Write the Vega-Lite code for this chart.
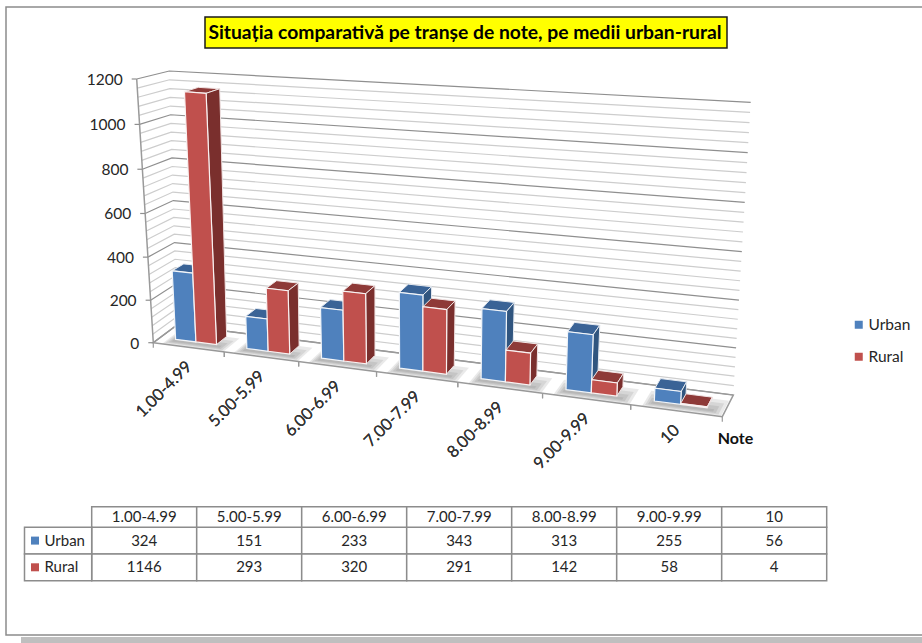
{
"$schema":"https://vega.github.io/schema/vega-lite/v6.json",
"width":925,"height":628,
"padding":{"left":6,"top":7,"right":0,"bottom":8},
"autosize":{"type":"none"},
"background":"#ffffff",
"config":{"font":"Lato","view":{"stroke":"#8c8c8c","strokeWidth":1.5,"fill":"#ffffff"}},
"datasets":{
"notes":[
{"cat":"1.00-4.99","series":"Urban","value":324},{"cat":"5.00-5.99","series":"Urban","value":151},{"cat":"6.00-6.99","series":"Urban","value":233},{"cat":"7.00-7.99","series":"Urban","value":343},{"cat":"8.00-8.99","series":"Urban","value":313},{"cat":"9.00-9.99","series":"Urban","value":255},{"cat":"10","series":"Urban","value":56},
{"cat":"1.00-4.99","series":"Rural","value":1146},{"cat":"5.00-5.99","series":"Rural","value":293},{"cat":"6.00-6.99","series":"Rural","value":320},{"cat":"7.00-7.99","series":"Rural","value":291},{"cat":"8.00-8.99","series":"Rural","value":142},{"cat":"9.00-9.99","series":"Rural","value":58},{"cat":"10","series":"Rural","value":4}],
"grid":[{"g":0},{"g":40},{"g":80},{"g":120},{"g":160},{"g":200},{"g":240},{"g":280},{"g":320},{"g":360},{"g":400},{"g":440},{"g":480},{"g":520},{"g":560},{"g":600},{"g":640},{"g":680},{"g":720},{"g":760},{"g":800},{"g":840},{"g":880},{"g":920},{"g":960},{"g":1000},{"g":1040},{"g":1080},{"g":1120},{"g":1160},{"g":1200}]
},
"layer":[
{"data":{"values":[{}]},"mark":{"type":"rect","fill":"#bfbfbf"},
 "encoding":{"x":{"datum":21,"type":"quantitative","scale":{"domain":[6,931],"nice":false,"zero":false},"axis":null},"x2":{"datum":931},
 "y":{"datum":637,"type":"quantitative","scale":{"domain":[635,7],"nice":false,"zero":false},"axis":null},"y2":{"datum":650}}},
{"data":{"name":"grid"},
 "transform":[
 {"calculate":"[0,1,2,3]","as":"c"},{"flatten":["c"]},
 {"calculate":"[0,0,1,1][datum.c]","as":"T"},
 {"calculate":"[0,1,1,0][datum.c]","as":"D"},
 {"calculate":"datum.g/1200","as":"V0"},
 {"calculate":"0.96*datum.V0+0.04*datum.V0*datum.V0","as":"V"},
 {"calculate":"(1-datum.V)*((1-datum.D)*(153.3+569*datum.T)+datum.D*(177+556.3*datum.T))+datum.V*((1-datum.D)*(136.7+601.3*datum.T)+datum.D*(169.3+581.4*datum.T))","as":"px"},
 {"calculate":"(1-datum.V)*((1-datum.D)*(342.7+74*datum.T)+datum.D*(325+70*datum.T))+datum.V*((1-datum.D)*(79+50*datum.T)+datum.D*(71+31.3*datum.T))","as":"py"},
 {"calculate":"datum.px-5","as":"tickx"},
 {"calculate":"datum.px-14","as":"labx"}
 ],
 "encoding":{"x":{"field":"px","type":"quantitative","scale":{"domain":[6,931],"nice":false,"zero":false},"axis":null},
 "y":{"field":"py","type":"quantitative","scale":{"domain":[635,7],"nice":false,"zero":false},"axis":null}},
 "layer":[
 {"transform":[{"filter":"datum.c<3 && datum.g%200!=0"}],"mark":{"type":"line","stroke":"#cdcdcd","strokeWidth":1.2},"encoding":{"detail":{"field":"g"},"order":{"field":"c"}}},
 {"transform":[{"filter":"datum.c<3 && datum.g%200==0"}],"mark":{"type":"line","stroke":"#8f8f8f","strokeWidth":1.2},"encoding":{"detail":{"field":"g"},"order":{"field":"c"}}},
 {"transform":[{"filter":"datum.g==0"}],"mark":{"type":"line","stroke":"#9a9a9a","strokeWidth":1.5,"interpolate":"linear-closed"},"encoding":{"order":{"field":"c"}}},
 {"transform":[{"filter":"datum.c==0"}],"mark":{"type":"line","stroke":"#9a9a9a","strokeWidth":1.5},"encoding":{"order":{"field":"g"}}},
 {"transform":[{"filter":"datum.c==0 && datum.g%200==0"}],"mark":{"type":"rule","stroke":"#8f8f8f","strokeWidth":1.2},"encoding":{"x":{"field":"tickx","type":"quantitative","scale":{"domain":[6,931],"nice":false,"zero":false},"axis":null},"x2":{"field":"px"}}},
 {"transform":[{"filter":"datum.c==0 && datum.g%200==0"}],"mark":{"type":"text","align":"right","baseline":"middle","dy":1,"fontSize":15.5,"fill":"#262626"},"encoding":{"x":{"field":"labx","type":"quantitative","scale":{"domain":[6,931],"nice":false,"zero":false},"axis":null},"text":{"field":"g","type":"nominal"}}}
 ]},
{"data":{"name":"notes"},
 "transform":[
 {"filter":"datum.series=='Urban'"},
 {"calculate":"indexof(['1.00-4.99','5.00-5.99','6.00-6.99','7.00-7.99','8.00-8.99','9.00-9.99','10'],datum.cat)","as":"i"},
 {"calculate":"[0,1,2,3]","as":"l"},{"flatten":["l"]},
 {"calculate":"[0,1,2,3]","as":"c"},{"flatten":["c"]},
 {"calculate":"(datum.c==0||datum.c==3)?0.2-0.025*datum.l:0.88+0.035*datum.l","as":"a"},
 {"calculate":"datum.c<2?0.17-0.05*datum.l:0.28+0.15*datum.l","as":"D"},
 {"calculate":"(datum.i+datum.a)/7","as":"U"},
 {"calculate":"0.852*datum.U+0.148*datum.U*datum.U","as":"T"},
 {"calculate":"(1-datum.D)*(153.3+569*datum.T)+datum.D*(177+556.3*datum.T)","as":"px"},
 {"calculate":"(1-datum.D)*(342.7+74*datum.T)+datum.D*(325+70*datum.T)","as":"py"},
 {"calculate":"datum.cat+'-'+datum.l","as":"key"}
 ],
 "mark":{"type":"line","fill":"#666666","fillOpacity":0.14,"stroke":null,"interpolate":"linear-closed"},
 "encoding":{"x":{"field":"px","type":"quantitative","scale":{"domain":[6,931],"nice":false,"zero":false},"axis":null},"y":{"field":"py","type":"quantitative","scale":{"domain":[635,7],"nice":false,"zero":false},"axis":null},"detail":{"field":"key"},"order":{"field":"c"}}},
{"data":{"name":"notes"},
 "transform":[
 {"calculate":"indexof(['1.00-4.99','5.00-5.99','6.00-6.99','7.00-7.99','8.00-8.99','9.00-9.99','10'],datum.cat)","as":"i"},
 {"calculate":"datum.series=='Urban'?0:1","as":"s"},
 {"calculate":"['top','side','front']","as":"face"},{"flatten":["face"]},
 {"calculate":"[0,1,2,3]","as":"c"},{"flatten":["c"]},
 {"calculate":"(datum.i+0.22+0.29*datum.s)/7","as":"ua"},
 {"calculate":"(datum.i+0.22+0.29*(datum.s+1))/7","as":"ub"},
 {"calculate":"datum.value/1200","as":"v"},
 {"calculate":"datum.face=='side'?datum.ub:((datum.c==0||datum.c==3)?datum.ua:datum.ub)","as":"U"},
 {"calculate":"datum.face=='front'?0.3:(datum.face=='side'?((datum.c==0||datum.c==3)?0.3:0.75):(datum.c<2?0.3:0.75))","as":"D"},
 {"calculate":"datum.face=='top'?datum.v:(datum.c<2?0:datum.v)","as":"V0"},
 {"calculate":"0.96*datum.V0+0.04*datum.V0*datum.V0","as":"V"},
 {"calculate":"0.852*datum.U+0.148*datum.U*datum.U","as":"T"},
 {"calculate":"(1-datum.V)*((1-datum.D)*(153.3+569*datum.T)+datum.D*(177+556.3*datum.T))+datum.V*((1-datum.D)*(136.7+601.3*datum.T)+datum.D*(169.3+581.4*datum.T))","as":"px"},
 {"calculate":"(1-datum.V)*((1-datum.D)*(342.7+74*datum.T)+datum.D*(325+70*datum.T))+datum.V*((1-datum.D)*(79+50*datum.T)+datum.D*(71+31.3*datum.T))","as":"py"}
 ],
 "encoding":{"x":{"field":"px","type":"quantitative","scale":{"domain":[6,931],"nice":false,"zero":false},"axis":null},
 "y":{"field":"py","type":"quantitative","scale":{"domain":[635,7],"nice":false,"zero":false},"axis":null},
 "detail":{"field":"cat"},"order":{"field":"c"}},
 "layer":[
 {"transform":[{"filter":"datum.s==0&&datum.face=='top'"}],"mark":{"type":"line","fill":"#3a6396","stroke":"#e4e9f0","strokeWidth":1,"interpolate":"linear-closed"}},
 {"transform":[{"filter":"datum.s==0&&datum.face=='side'"}],"mark":{"type":"line","fill":"#30557f","stroke":"#e4e9f0","strokeWidth":1,"interpolate":"linear-closed"}},
 {"transform":[{"filter":"datum.s==0&&datum.face=='front'"}],"mark":{"type":"line","fill":"#4f81bd","stroke":"#f2f5f9","strokeWidth":1.2,"interpolate":"linear-closed"}},
 {"transform":[{"filter":"datum.s==1&&datum.face=='top'"}],"mark":{"type":"line","fill":"#8e3a38","stroke":"#f0e4e4","strokeWidth":1,"interpolate":"linear-closed"}},
 {"transform":[{"filter":"datum.s==1&&datum.face=='side'"}],"mark":{"type":"line","fill":"#7a2f2d","stroke":"#f0e4e4","strokeWidth":1,"interpolate":"linear-closed"}},
 {"transform":[{"filter":"datum.s==1&&datum.face=='front'"}],"mark":{"type":"line","fill":"#c0504d","stroke":"#f9f2f2","strokeWidth":1.2,"interpolate":"linear-closed"}}
 ]},
{"data":{"name":"notes"},
 "transform":[
 {"filter":"datum.series=='Urban'"},
 {"calculate":"indexof(['1.00-4.99','5.00-5.99','6.00-6.99','7.00-7.99','8.00-8.99','9.00-9.99','10'],datum.cat)","as":"i"},
 {"calculate":"(datum.i+0.5)/7","as":"Um"},
 {"calculate":"0.852*datum.Um+0.148*datum.Um*datum.Um","as":"Tm"},
 {"calculate":"153.3+569*datum.Tm+1","as":"lx"},
 {"calculate":"342.7+74*datum.Tm+17","as":"ly"},
 {"calculate":"[datum.i,datum.i+1]","as":"e"},{"flatten":["e"]},
 {"calculate":"datum.e/7","as":"Ue"},
 {"calculate":"0.852*datum.Ue+0.148*datum.Ue*datum.Ue","as":"Te"},
 {"calculate":"153.3+569*datum.Te","as":"tx"},
 {"calculate":"342.7+74*datum.Te","as":"ty"},
 {"calculate":"datum.ty+5","as":"ty2"}
 ],
 "layer":[
 {"mark":{"type":"rule","stroke":"#9a9a9a","strokeWidth":1.2},"encoding":{"x":{"field":"tx","type":"quantitative","scale":{"domain":[6,931],"nice":false,"zero":false},"axis":null},"y":{"field":"ty","type":"quantitative","scale":{"domain":[635,7],"nice":false,"zero":false},"axis":null},"y2":{"field":"ty2"}}},
 {"mark":{"type":"text","angle":315,"align":"right","baseline":"middle","fontSize":16.5,"fill":"#333333"},"encoding":{"x":{"field":"lx","type":"quantitative","scale":{"domain":[6,931],"nice":false,"zero":false},"axis":null},"y":{"field":"ly","type":"quantitative","scale":{"domain":[635,7],"nice":false,"zero":false},"axis":null},"text":{"field":"cat"}}}
 ]},
{"data":{"values":[{"t":"Note"}]},"mark":{"type":"text","fontWeight":"bold","fontSize":16,"fill":"#111111"},
 "encoding":{"x":{"datum":735.5,"type":"quantitative","scale":{"domain":[6,931],"nice":false,"zero":false},"axis":null},"y":{"datum":439,"type":"quantitative","scale":{"domain":[635,7],"nice":false,"zero":false},"axis":null},"text":{"field":"t"}}},
{"data":{"values":[{"t":"Situația comparativă pe tranșe de note, pe medii urban-rural"}]},
 "encoding":{"y":{"datum":17,"type":"quantitative","scale":{"domain":[635,7],"nice":false,"zero":false},"axis":null}},
 "layer":[
 {"mark":{"type":"rect","fill":"#ffff00","stroke":"#1a1a1a","strokeWidth":1.5},"encoding":{"x":{"datum":205,"type":"quantitative","scale":{"domain":[6,931],"nice":false,"zero":false},"axis":null},"x2":{"datum":727},"y2":{"datum":48}}},
 {"mark":{"type":"text","fontWeight":"bold","fontSize":19.3,"fill":"#000000"},"encoding":{"x":{"datum":465,"type":"quantitative","scale":{"domain":[6,931],"nice":false,"zero":false},"axis":null},"y":{"datum":33,"type":"quantitative","scale":{"domain":[635,7],"nice":false,"zero":false},"axis":null},"text":{"field":"t"}}}
 ]},
{"data":{"name":"notes"},
 "transform":[
 {"calculate":"indexof(['1.00-4.99','5.00-5.99','6.00-6.99','7.00-7.99','8.00-8.99','9.00-9.99','10'],datum.cat)","as":"i"},
 {"calculate":"datum.series=='Urban'?0:1","as":"s"},
 {"calculate":"91.7+105*datum.i","as":"cx0"},
 {"calculate":"91.7+105*(datum.i+1)","as":"cx1"},
 {"calculate":"91.7+105*(datum.i+0.5)","as":"cxm"},
 {"calculate":"527.3+26.7*datum.s","as":"cy0"},
 {"calculate":"datum.cy0+26.7","as":"cy1"},
 {"calculate":"datum.cy0+13.3","as":"cym"},
 {"calculate":"24.5","as":"hx0"},
 {"calculate":"91.7","as":"hx1"},
 {"calculate":"44.5","as":"hxt"},
 {"calculate":"35","as":"hxs"},
 {"calculate":"506.7","as":"ty0"},
 {"calculate":"517","as":"tym"}
 ],
 "layer":[
 {"mark":{"type":"rect","fill":"#ffffff","stroke":"#8c8c8c","strokeWidth":1.5},"encoding":{"x":{"field":"cx0","type":"quantitative","scale":{"domain":[6,931],"nice":false,"zero":false},"axis":null},"x2":{"field":"cx1"},"y":{"field":"cy0","type":"quantitative","scale":{"domain":[635,7],"nice":false,"zero":false},"axis":null},"y2":{"field":"cy1"}}},
 {"transform":[{"filter":"datum.s==0"}],"mark":{"type":"rect","fill":"#ffffff","stroke":"#8c8c8c","strokeWidth":1.5},"encoding":{"x":{"field":"cx0","type":"quantitative","scale":{"domain":[6,931],"nice":false,"zero":false},"axis":null},"x2":{"field":"cx1"},"y":{"field":"ty0","type":"quantitative","scale":{"domain":[635,7],"nice":false,"zero":false},"axis":null},"y2":{"field":"cy0"}}},
 {"transform":[{"filter":"datum.i==0"}],"mark":{"type":"rect","fill":"#ffffff","stroke":"#8c8c8c","strokeWidth":1.5},"encoding":{"x":{"field":"hx0","type":"quantitative","scale":{"domain":[6,931],"nice":false,"zero":false},"axis":null},"x2":{"field":"hx1"},"y":{"field":"cy0","type":"quantitative","scale":{"domain":[635,7],"nice":false,"zero":false},"axis":null},"y2":{"field":"cy1"}}},
 {"mark":{"type":"text","fontSize":15,"fill":"#262626"},"encoding":{"x":{"field":"cxm","type":"quantitative","scale":{"domain":[6,931],"nice":false,"zero":false},"axis":null},"y":{"field":"cym","type":"quantitative","scale":{"domain":[635,7],"nice":false,"zero":false},"axis":null},"text":{"field":"value","type":"nominal"}}},
 {"transform":[{"filter":"datum.s==0"}],"mark":{"type":"text","fontSize":15,"fill":"#262626"},"encoding":{"x":{"field":"cxm","type":"quantitative","scale":{"domain":[6,931],"nice":false,"zero":false},"axis":null},"y":{"field":"tym","type":"quantitative","scale":{"domain":[635,7],"nice":false,"zero":false},"axis":null},"text":{"field":"cat"}}},
 {"transform":[{"filter":"datum.i==0"}],"mark":{"type":"text","fontSize":15,"align":"left","fill":"#262626"},"encoding":{"x":{"field":"hxt","type":"quantitative","scale":{"domain":[6,931],"nice":false,"zero":false},"axis":null},"y":{"field":"cym","type":"quantitative","scale":{"domain":[635,7],"nice":false,"zero":false},"axis":null},"text":{"field":"series"}}},
 {"transform":[{"filter":"datum.i==0"}],"mark":{"type":"point","shape":"square","filled":true,"size":64,"opacity":1},"encoding":{"x":{"field":"hxs","type":"quantitative","scale":{"domain":[6,931],"nice":false,"zero":false},"axis":null},"y":{"field":"cym","type":"quantitative","scale":{"domain":[635,7],"nice":false,"zero":false},"axis":null},
  "fill":{"field":"series","type":"nominal","scale":{"domain":["Urban","Rural"],"range":["#4f81bd","#c0504d"]},
   "legend":{"title":null,"orient":"none","legendX":845,"legendY":310,"symbolType":"square","symbolSize":64,"labelFontSize":15.5,"labelColor":"#262626","rowPadding":15,"labelOffset":2,"symbolStrokeWidth":0}}}}
 ]}
]
}
